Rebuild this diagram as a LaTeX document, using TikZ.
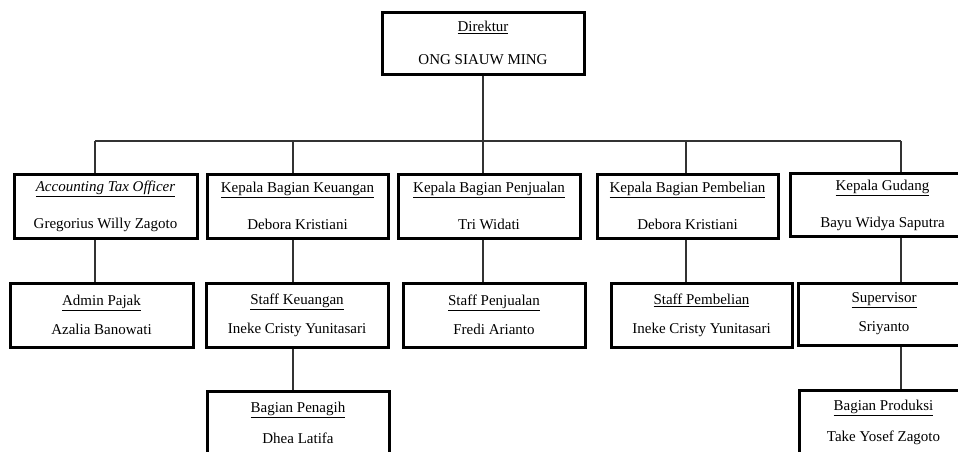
\documentclass[tikz,border=0pt]{standalone}
\usepackage{fontspec}
\setmainfont{Liberation Serif}
\usepackage{tikz}

\begin{document}
\begin{tikzpicture}[x=1pt, y=-1pt, every node/.style={draw, line width=3pt, align=center, inner sep=0pt, minimum height=64pt, font=\fontsize{15}{18}\selectfont}, conn/.style={line width=1.4pt, draw=black!80}]
	\useasboundingbox (0,0) rectangle (958,451);
	\clip (0,0) rectangle (958,451);
	\node (direktur) at (483,43) [minimum width=202pt, minimum height=62pt] {\underline{Direktur}\\[15pt]ONG SIAUW MING};
	
	\node (akt) at (105.5,206) [minimum width=183pt] {\underline{\textit{Accounting Tax Officer}}\\[19pt]Gregorius Willy Zagoto};
	\node (keu) at (297.5,206) [minimum width=181pt] {\underline{Kepala Bagian Keuangan}\\[19pt]Debora Kristiani};
	\node (pjl) at (489,206) [minimum width=182pt] {\underline{Kepala Bagian Penjualan}\\[19pt]Tri Widati};
	\node (pbl) at (687.5,206) [minimum width=181pt] {\underline{Kepala Bagian Pembelian}\\[19pt]Debora Kristiani};
	\node (gdg) at (882.5,205) [minimum width=185pt, minimum height=63pt] {\underline{Kepala Gudang}\\[19pt]Bayu Widya Saputra};
	
	\node (pajak) at (101.5,315) [minimum width=183pt] {\underline{Admin Pajak}\\[11pt]Azalia Banowati};
	\node (skeu) at (297,315) [minimum width=182pt] {\underline{Staff Keuangan}\\[11pt]Ineke Cristy Yunitasari};
	\node (spjl) at (494,315) [minimum width=182pt] {\underline{Staff Penjualan}\\[11pt]Fredi Arianto};
	\node (spbl) at (701.5,315) [minimum width=181pt] {\underline{Staff Pembelian}\\[11pt]Ineke Cristy Yunitasari};
	\node (spv) at (884,314) [minimum width=172pt, minimum height=62pt] {\underline{Supervisor}\\[11pt]Sriyanto};
	
	\node (pngh) at (298,423) [minimum width=182pt] {\underline{Bagian Penagih}\\[13pt]Dhea Latifa};
	\node (prod) at (883.5,422) [minimum width=169pt] {\underline{Bagian Produksi}\\[13pt]Take Yosef Zagoto};
	
	\coordinate (b1) at (95,141);
	\coordinate (b2) at (293,141);
	\coordinate (b4) at (686,141);
	\coordinate (b5) at (901,141);
	
	\draw[conn] (direktur.south) -- (direktur.south |- pjl.north);
	\draw[conn] (b1) -- (b5);
	\draw[conn] (b1) -- (b1 |- akt.north);
	\draw[conn] (b2) -- (b2 |- keu.north);
	\draw[conn] (b4) -- (b4 |- pbl.north);
	\draw[conn] (b5) -- (b5 |- gdg.north);
	
	\draw[conn] (b1 |- akt.south) -- (b1 |- pajak.north);
	\draw[conn] (b2 |- keu.south) -- (b2 |- skeu.north);
	\draw[conn] (direktur.south |- pjl.south) -- (direktur.south |- spjl.north);
	\draw[conn] (b4 |- pbl.south) -- (b4 |- spbl.north);
	\draw[conn] (b5 |- gdg.south) -- (b5 |- spv.north);
	
	\draw[conn] (b2 |- skeu.south) -- (b2 |- pngh.north);
	\draw[conn] (b5 |- spv.south) -- (b5 |- prod.north);
\end{tikzpicture}
\end{document}
